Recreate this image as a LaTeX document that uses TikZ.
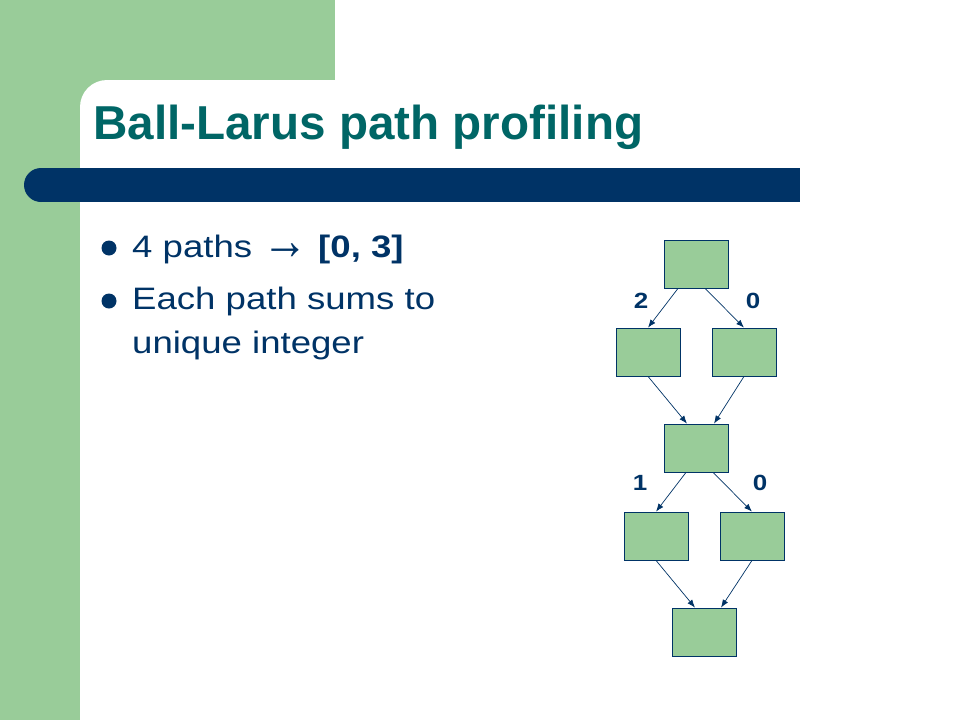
\documentclass[tikz,border=0pt]{standalone}
\usepackage{fontspec}
\setmainfont{Liberation Sans}
\newfontfamily\bodyfont[FakeStretch=1.18]{Liberation Sans}
\usepackage{xcolor}
\definecolor{green-300}{RGB}{153,204,153}
\definecolor{teal-800}{RGB}{0,102,102}
\definecolor{navy-900}{RGB}{0,51,102}
\usepackage{tikz}
\usetikzlibrary{arrows.meta,positioning}

\begin{document}
\begin{tikzpicture}[x=1pt, y=-1pt,
    block box/.style={draw=navy-900, fill=green-300, line width=0.8pt, minimum width=64pt, minimum height=48pt, inner sep=0pt},
    edge label/.style={font=\bodyfont\fontsize{22}{22}\selectfont\bfseries, text=navy-900, inner sep=0pt},
    bullet text/.style={font=\bodyfont\fontsize{31}{31}\selectfont, text=navy-900, anchor=base west, inner sep=0pt},
    bullet dot/.style={circle, fill=navy-900, minimum size=15pt, inner sep=0pt},
    arrow/.style={-{Latex[length=8pt,width=6pt]}, line width=0.7pt, navy-900}
]
\useasboundingbox (0,0) rectangle (960,720);

% Slide background
\fill[white] (0,0) rectangle (960,720);
\fill[green-300] (0,0) rectangle (80,720);
\fill[green-300] (0,0) rectangle (335,80);
\fill[green-300] (80,80) rectangle (107,107);
\fill[white, rounded corners=27pt] (80,80) rectangle (160,160);

% Title and bar
\node[anchor=base west, inner sep=0pt, font=\fontsize{47.6}{48}\selectfont\bfseries, text=teal-800] (title) at (93,139) {Ball-Larus path profiling};
\fill[navy-900] (41,168) rectangle (800,202);
\fill[navy-900] (41,185) circle (17);

% Bullets
\node[bullet dot] (dot1) at (109,248) {};
\node[bullet text] (line1) at (132,257) {4 paths \raisebox{-2pt}{\scalebox{1.25}[1.8]{\textbf{→}}} \textbf{[0, 3]}};
\node[bullet dot] (dot2) at (109,301) {};
\node[bullet text] (line2) at (132,309) {Each path sums to};
\node[bullet text] (line3) at (132,353) {unique integer};

% Blocks - first diamond
\node[block box] (blkA) at (696,264) {};
\node[block box] (blkB) at (648,352) {};
\node[block box] (blkC) at (744,352) {};
\node[block box] (blkD) at (696,448) {};

% Blocks - second diamond
\node[block box] (blkE) at (656,536) {};
\node[block box] (blkF) at (752,536) {};
\node[block box] (blkG) at (704,632) {};

% Edges A->B, A->C
\draw[arrow] ([xshift=-18pt]blkA.south) -- (blkB.north);
\draw[arrow] ([xshift=9pt]blkA.south) -- (blkC.north);
\node[edge label] (lblAB) at (641,301) {2};
\node[edge label] (lblAC) at (753,301) {0};

% Edges B->D, C->D
\draw[arrow] (blkB.south) -- ([xshift=-9pt]blkD.north);
\draw[arrow] (blkC.south) -- ([xshift=18pt]blkD.north);

% Edges D->E, D->F
\draw[arrow] ([xshift=-10pt]blkD.south) -- (blkE.north);
\draw[arrow] ([xshift=17pt]blkD.south) -- (blkF.north);
\node[edge label] (lblDE) at (640,483) {1};
\node[edge label] (lblDF) at (760,483) {0};

% Edges E->G, F->G
\draw[arrow] (blkE.south) -- ([xshift=-9pt]blkG.north);
\draw[arrow] (blkF.south) -- ([xshift=17pt]blkG.north);

\end{tikzpicture}
\end{document}
